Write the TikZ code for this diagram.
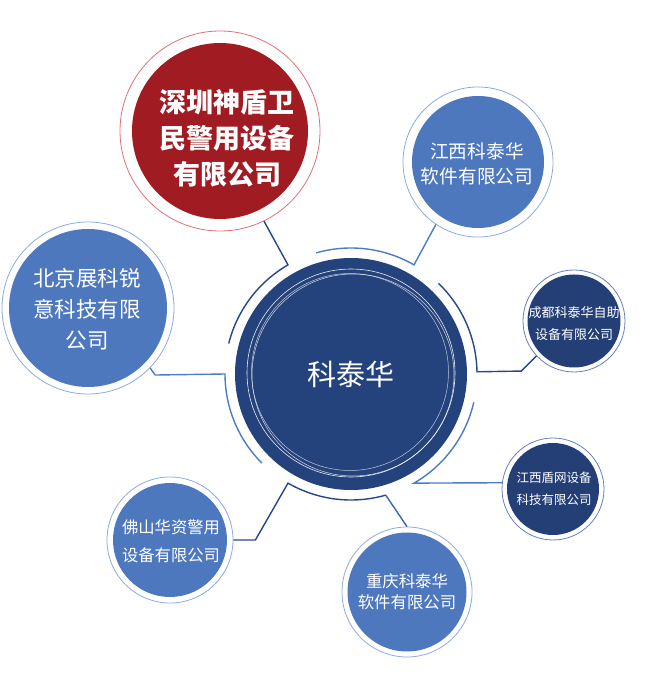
\documentclass[tikz,border=0pt]{standalone}
\usepackage{fontspec}
\newfontfamily\cjk{Noto Sans CJK SC}
\usetikzlibrary{calc}
\definecolor{navy}{RGB}{36,66,124}
\definecolor{darkline}{RGB}{38,70,135}
\definecolor{medline}{RGB}{74,124,200}
\definecolor{cqline}{RGB}{62,100,170}
\definecolor{medfill}{RGB}{78,120,190}
\definecolor{lightring}{RGB}{140,170,222}
\definecolor{darkfill}{RGB}{36,62,118}
\definecolor{darkring}{RGB}{100,128,182}
\definecolor{redfill}{RGB}{160,28,34}
\definecolor{redring}{RGB}{222,112,118}
\tikzset{
  sat/.style n args={4}{circle, inner sep=0pt, minimum size=#1, draw=#2, line width=0.8pt,
    path picture={\fill[#3] (path picture bounding box.center) circle (#4);}},
  txt/.style={text=white, align=center, inner sep=0pt},
  conn/.style={line width=1.4pt, line join=miter},
}
\begin{document}
\begin{tikzpicture}[x=1pt,y=1pt]
\useasboundingbox (0,0) rectangle (650,697);
% centre
\node[circle, fill=navy, minimum size=232pt, inner sep=0pt, text=white,
      font=\cjk\fontsize{29pt}{34pt}\selectfont] (C) at (351,323) {科泰华};
\draw[white, line width=0.6pt, opacity=0.9] (351,324) circle (104pt);
\draw[white, line width=0.5pt, opacity=0.8] (353,322) circle (101pt);
\draw[white, line width=0.5pt, opacity=0.7] (350,325) circle (98.5pt);
% satellites
\node[sat={200pt}{redring}{redfill}{88pt}] (red) at (220,566) {};
\node[sat={172pt}{lightring}{medfill}{79pt}] (bj) at (88,389) {};
\node[sat={150pt}{lightring}{medfill}{66pt}] (jx) at (478,535) {};
\node[sat={102pt}{darkring}{darkfill}{46.5pt}] (cd) at (574,376) {};
\node[sat={102pt}{darkring}{darkfill}{46pt}] (dw) at (553,208) {};
\node[sat={130pt}{lightring}{medfill}{59.5pt}] (cq) at (407,105) {};
\node[sat={126pt}{lightring}{medfill}{57pt}] (fs) at (170,157) {};
% texts
\node[txt, font=\cjk\bfseries\fontsize{27pt}{36pt}\selectfont] (redt) at (227,559) {深圳神盾卫\\民警用设备\\有限公司};
\node[txt, font=\cjk\fontsize{21.5pt}{31pt}\selectfont] (bjt) at (87,388) {北京展科锐\\意科技有限\\公司};
\node[txt, font=\cjk\fontsize{18.7pt}{25pt}\selectfont] (jxt) at (477,533) {江西科泰华\\软件有限公司};
\node[txt, font=\cjk\fontsize{13pt}{22pt}\selectfont] (cdt) at (574,373) {成都科泰华自助\\设备有限公司};
\node[txt, font=\cjk\fontsize{12.5pt}{22pt}\selectfont] (dwt) at (554,208) {江西盾网设备\\科技有限公司};
\node[txt, font=\cjk\fontsize{16.4pt}{21.5pt}\selectfont] (cqt) at (407,105) {重庆科泰华\\软件有限公司};
\node[txt, font=\cjk\fontsize{16.3pt}{28pt}\selectfont] (fst) at (171,156) {佛山华资警用\\设备有限公司};
% arc end points
\path (C.center) ++(120:126pt) coordinate (r1);
\path (C.center) ++(60:126pt) coordinate (j1);
\path (C.center) ++(1:126pt) coordinate (c1);
\path (C.center) ++(-60:126pt) coordinate (d1);
\path (C.center) ++(-74:126pt) coordinate (q1);
\path (C.center) ++(-120:126pt) coordinate (f1);
\path (C.center) ++(180:126pt) coordinate (b1);
% connectors
\draw[conn, darkline] (red.-64) -- (r1) arc[start angle=120, end angle=166, radius=126pt];
\draw[conn, medline] (jx.236) -- (j1) arc[start angle=60, end angle=106, radius=126pt];
\draw[conn, darkline] (cd.223) -- ++(-15pt,-15pt) coordinate (ck) -- (c1) arc[start angle=1, end angle=46, radius=126pt];
\draw[conn, medline] (dw.173) -- (d1) arc[start angle=-60, end angle=-13, radius=126pt];
\draw[conn, darkline] (fs.east) -- ++(22pt,0) coordinate (fk) -- (f1) arc[start angle=-120, end angle=-74, radius=126pt];
\draw[conn, cqline] (q1) -- (cq.north);
\draw[conn, medline] (bj.-44) -- ++(5pt,-7pt) coordinate (bk) -- (b1) arc[start angle=180, end angle=225, radius=126pt];
\end{tikzpicture}
\end{document}
